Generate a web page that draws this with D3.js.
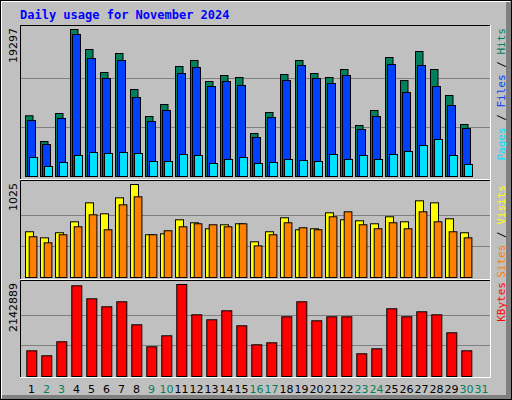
<!DOCTYPE html><html><head><script src="https://cdn.jsdelivr.net/npm/d3@7"></script>
<style>body{margin:0;background:#fff}</style></head><body><svg id="c" width="512" height="400"></svg>
<script>
const days = d3.range(1,32).map(String);
const weekend = ["2","3","9","10","16","17","23","24","30","31"];
const hits = [7970,4594,8270,19297,16671,13652,16146,11420,7876,9451,14440,15227,12471,13258,12996,5645,8401,13390,15227,13521,12996,14046,6695,8664,15621,12602,16409,14046,10633,6826];
const files = [7351,4201,7614,18640,15490,12864,15227,10370,7220,8664,13521,14308,11814,12471,11946,5120,7745,12602,14571,12864,12208,13258,6170,7876,14702,11027,14571,11814,9320,6301];
const pages = [2494,1313,1838,2757,3150,3019,3150,3019,1969,1969,2888,2757,1707,2232,2494,1707,1838,2232,2100,1969,2888,2232,2757,2232,2888,3282,4069,4857,2757,1575];
const visits = [504,437,493,614,823,702,878,1025,471,482,636,603,537,581,592,393,504,658,526,537,713,636,625,592,669,614,845,823,647,493];
const sites = [449,382,471,559,691,526,801,889,471,515,559,592,581,559,592,349,471,603,548,526,669,724,581,537,603,537,724,614,504,437];
const kbytes = [598600,482100,808200,2112600,1809800,1623500,1739900,1204200,691800,948000,2142889,1437100,1320700,1530300,1180900,738400,785000,1390500,1739900,1297400,1390500,1390500,528700,645200,1576900,1390500,1507000,1437100,1017900,598600];
const maxLabels = ["19297","1025","2142889"];

const svg = d3.select("#c");
svg.append("rect").attr("x",0).attr("y",0).attr("width",512).attr("height",400).attr("fill","#c0c0c0");
// 3D frame
svg.append("path").attr("d","M1,398 V1 H510").attr("stroke","#fff").attr("stroke-width",2).attr("fill","none");
svg.append("path").attr("d","M2,397.5 H508.5 V2").attr("stroke","#808080").attr("stroke-width",5).attr("fill","none");
svg.append("rect").attr("x",0.5).attr("y",0.5).attr("width",511).attr("height",399).attr("fill","none").attr("stroke","#000");

svg.append("text").attr("x",20).attr("y",19).text("Daily usage for November 2024")
 .attr("font-family","DejaVu Sans Mono").attr("font-weight","bold").attr("font-size",12).attr("fill","#0000ff");

const x = d3.scaleBand().domain(days).range([25,490]).paddingInner(0);
const X = d => x(d)- (x.bandwidth()-15)*0; // band start
const step = 15;
const xs = d3.scaleLinear().domain([1,31]).range([25,25+30*step]);

const panels = [
 {top:25,bottom:180,y0:176,y1:29,max:19297,series:[[hits,"#00805c",0,7.5],[files,"#0040ff",2,8],[pages,"#00e0ff",4,8]],label:[["Pages","#00e0ff"],[" / ","#000"],["Files","#0040ff"],[" / ","#000"],["Hits","#00805c"]],lx:28},
 {top:180,bottom:280,y0:277,y1:184,max:1025,series:[[visits,"#ffff00",0,8],[sites,"#ff8000",3.7,7.7]],label:[["Sites","#ff8000"],[" / ","#000"],["Visits","#ffff00"]],lx:185},
 {top:280,bottom:378,y0:376,y1:284,max:2142889,series:[[kbytes,"#ff0000",1.3,10]],label:[["KBytes","#ff0000"]],lx:282}
];
panels.forEach((p,i)=>{
 const y = d3.scaleLinear().domain([0,p.max]).range([p.y0,p.y1]);
 const g = svg.append("g");
 [p.max/3,2*p.max/3].forEach(v=>g.append("line").attr("x1",21).attr("x2",490).attr("y1",Math.round(y(v))+0.5).attr("y2",Math.round(y(v))+0.5).attr("stroke","#808080"));
 g.append("path").attr("d",`M20.5,${p.bottom} V${p.top+0.5} H490`).attr("stroke","#000").attr("fill","none");
 g.append("path").attr("d",`M20,${p.bottom-0.5+ (i<2?0:0)} H490.5 V${p.top}`).attr("stroke","#fff").attr("fill","none");
 p.series.forEach(([vals,col,off,w])=>{
  g.selectAll(null).data(vals).enter().append("rect")
   .attr("x",(d,j)=>xs(j+1)+off+0.5).attr("width",w)
   .attr("y",d=>y(d)+0.5).attr("height",d=>p.y0-y(d))
   .attr("fill",col).attr("stroke","#000").attr("stroke-width",1);
 });
 g.append("text").attr("transform",`translate(17,${p.top+3}) rotate(-90)`).attr("text-anchor","end")
  .attr("font-family","DejaVu Sans").attr("font-size",11).text(maxLabels[i]);
 const t = g.append("text").attr("transform",`translate(505,${p.lx}) rotate(-90)`).attr("text-anchor","end")
  .attr("font-family","DejaVu Sans Mono").attr("font-size",11);
 p.label.forEach(([s,c])=>t.append("tspan").attr("fill",c).text(s));
});
svg.selectAll(".dl").data(days).enter().append("text")
 .attr("x",(d,j)=>xs(j+1)+6.5).attr("y",393).attr("text-anchor","middle")
 .attr("font-family","DejaVu Sans").attr("font-size",11)
 .attr("fill",d=>weekend.includes(d)?"#00805c":"#000").text(d=>d);
</script></body></html>
